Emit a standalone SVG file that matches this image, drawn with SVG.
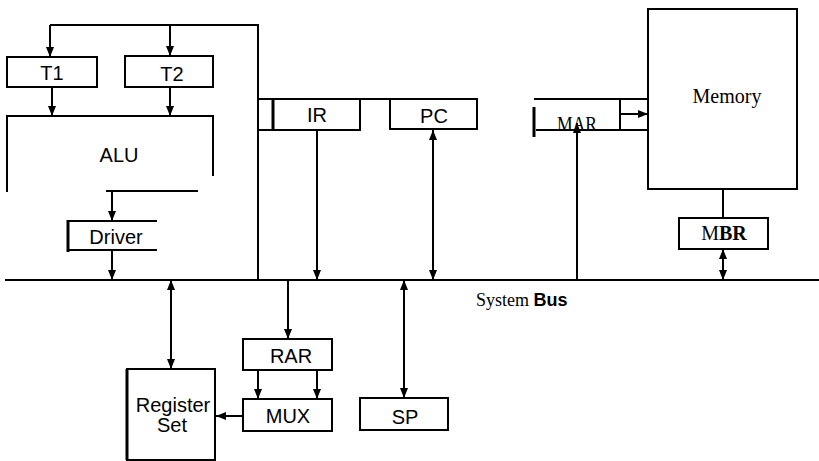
<svg xmlns="http://www.w3.org/2000/svg" width="819" height="461" viewBox="0 0 819 461">
<defs>
<marker id="ah" markerUnits="userSpaceOnUse" markerWidth="10" markerHeight="10" viewBox="0 0 10 10" refX="10" refY="5" orient="auto-start-reverse">
<path d="M0,1 L10,5 L0,9 Z" fill="#000"/>
</marker>
<style>
.ln{stroke:#000;stroke-width:2;fill:none}
.bx{stroke:#000;stroke-width:2;fill:#fff}
.th{stroke:#000;stroke-width:3;fill:none}
.sans{font-family:"Liberation Sans",Arial,Helvetica,sans-serif;font-size:20px;fill:#000;text-anchor:middle}
.serif{font-family:"Liberation Serif","Times New Roman",serif;font-size:20px;fill:#000;text-anchor:middle}
</style>
</defs>
<rect width="819" height="461" fill="#fff"/>

<g id="connectors">
<line class="ln" x1="5" y1="280" x2="819" y2="280"/>
<polyline class="ln" points="50,25 258,25 258,280"/>
<line class="ln" x1="50" y1="25" x2="50" y2="57" marker-end="url(#ah)"/>
<line class="ln" x1="170" y1="25" x2="170" y2="56" marker-end="url(#ah)"/>
<line class="ln" x1="52" y1="87" x2="52" y2="116" marker-end="url(#ah)"/>
<line class="ln" x1="170" y1="87" x2="170" y2="116" marker-end="url(#ah)"/>
<line class="ln" x1="112" y1="192" x2="112" y2="221" marker-end="url(#ah)"/>
<line class="ln" x1="112" y1="250" x2="112" y2="280" marker-end="url(#ah)"/>
<line class="ln" x1="317" y1="130" x2="317" y2="280" marker-end="url(#ah)"/>
<line class="ln" x1="433" y1="130" x2="433" y2="280" marker-start="url(#ah)" marker-end="url(#ah)"/>
<line class="ln" x1="577" y1="280" x2="577" y2="123" marker-end="url(#ah)"/>
<line class="ln" x1="620" y1="114" x2="648" y2="114" marker-end="url(#ah)"/>
<line class="ln" x1="723" y1="189" x2="723" y2="218"/>
<line class="ln" x1="723" y1="249" x2="723" y2="280" marker-start="url(#ah)" marker-end="url(#ah)"/>
<line class="ln" x1="171" y1="280" x2="171" y2="369" marker-start="url(#ah)" marker-end="url(#ah)"/>
<line class="ln" x1="288" y1="280" x2="288" y2="339" marker-end="url(#ah)"/>
<line class="ln" x1="258" y1="370" x2="258" y2="399" marker-end="url(#ah)"/>
<line class="ln" x1="317" y1="370" x2="317" y2="399" marker-end="url(#ah)"/>
<line class="ln" x1="243" y1="416" x2="216" y2="416" marker-end="url(#ah)"/>
<line class="ln" x1="404" y1="280" x2="404" y2="398" marker-start="url(#ah)" marker-end="url(#ah)"/>
</g>

<g id="T1">
<rect class="bx" x="7" y="57" width="90" height="30"/>
<text class="sans" x="52" y="80">T1</text>
</g>
<g id="T2">
<rect class="bx" x="125" y="56" width="88" height="31"/>
<text class="sans" x="172" y="81">T2</text>
</g>
<g id="ALU">
<polyline class="ln" points="7,192 7,116 213,116 213,176"/>
<line class="ln" x1="106" y1="191" x2="198" y2="191"/>
<text class="sans" x="119" y="162">ALU</text>
</g>
<g id="Driver">
<polyline class="ln" points="157,221 68,221 68,250 157,250"/>
<line class="th" x1="68" y1="220" x2="68" y2="252"/>
<text class="sans" x="116" y="244">Driver</text>
</g>
<g id="IR">
<line class="ln" x1="258" y1="99" x2="390" y2="99"/>
<polyline class="ln" points="258,130 360,130 360,99"/>
<line class="th" x1="273" y1="99" x2="273" y2="130"/>
<text class="sans" x="317" y="122">IR</text>
</g>
<g id="PC">
<rect class="bx" x="390" y="99" width="87" height="30"/>
<text class="sans" x="434" y="123">PC</text>
</g>
<g id="MAR">
<polyline class="ln" points="534,99 649,99"/>
<polyline class="ln" points="536,130 649,130"/>
<line class="th" x1="534" y1="107" x2="534" y2="137"/>
<line class="ln" x1="620" y1="99" x2="620" y2="130"/>
<text class="serif" x="577" y="131" font-size="19" textLength="40" lengthAdjust="spacingAndGlyphs">MAR</text>
</g>
<g id="Memory">
<rect class="bx" x="648" y="9" width="149" height="180" fill="none"/>
<text class="serif" x="727" y="103">Memory</text>
</g>
<g id="MBR">
<rect class="bx" x="679" y="218" width="89" height="31"/>
<text class="serif" x="724" y="240" font-size="19">M<tspan font-weight="bold">BR</tspan></text>
</g>
<g id="SystemBus">
<text x="476" y="306" font-family="'Liberation Serif','Times New Roman',serif" font-size="18" fill="#000">System <tspan font-family="'Liberation Sans',Arial,sans-serif" font-weight="bold">Bus</tspan></text>
</g>
<g id="RegisterSet">
<rect class="bx" x="127" y="369" width="88" height="91"/>
<line class="th" x1="127" y1="369" x2="127" y2="460"/>
<text class="sans" x="173" y="412">Register</text>
<text class="sans" x="172" y="432">Set</text>
</g>
<g id="RAR">
<rect class="bx" x="243" y="339" width="89" height="31"/>
<text class="sans" x="291" y="363">RAR</text>
</g>
<g id="MUX">
<rect class="bx" x="243" y="399" width="89" height="32"/>
<text class="sans" x="288" y="423">MUX</text>
</g>
<g id="SP">
<rect class="bx" x="360" y="398" width="88" height="32"/>
<text class="sans" x="405" y="424">SP</text>
</g>
</svg>
